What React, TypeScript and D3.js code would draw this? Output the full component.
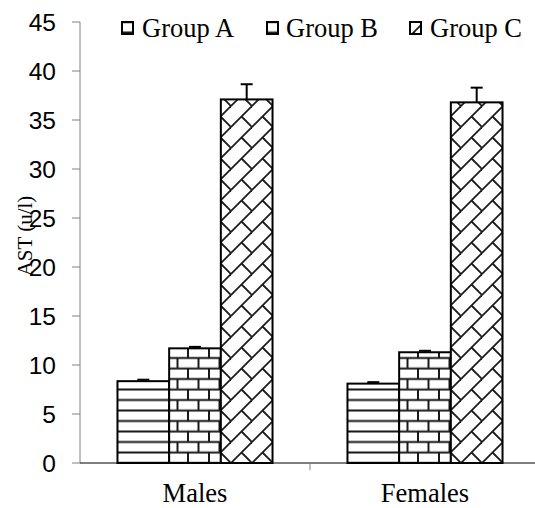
import React from "react";
import * as d3 from "d3";

const categories = ["Males", "Females"];
const groups = ["Group A", "Group B", "Group C"];
const malesValues = [8.35, 11.7, 37.1];
const femalesValues = [8.1, 11.3, 36.8];
const malesErrors = [0.15, 0.15, 1.55];
const femalesErrors = [0.15, 0.15, 1.5];
const yTicks = [0, 5, 10, 15, 20, 25, 30, 35, 40, 45];
const yLabel = "AST (u/l)";

const W = 535;
const H = 508;
const X0 = 80;
const X1 = 540;
const Y0 = 463;
const Y1 = 22;

export default function App() {
  const y = d3.scaleLinear().domain([0, 45]).range([Y0, Y1]);
  const xCat = d3.scaleBand<string>().domain(categories).range([X0, X1]).padding(0);
  const xGrp = d3
    .scaleBand<string>()
    .domain(groups)
    .range([0, xCat.bandwidth()])
    .paddingInner(0)
    .paddingOuter(0.725);

  const values = [malesValues, femalesValues];
  const errors = [malesErrors, femalesErrors];
  const patIds = ["patA", "patB", "patC"];

  const shifts: number[][] = [];
  for (const dx of [-21, 0, 21]) for (const dy of [-21, 0, 21]) shifts.push([dx, dy]);

  const lineStroke = "#1a1a1a";
  const legendX = [122, 267, 410];
  const legendTextX = [142, 286, 430];
  const serif = "'Liberation Serif', 'Times New Roman', serif";

  return (
    <svg
      width={W}
      height={H}
      style={{ position: "absolute", left: 0, top: 0, background: "#fff" }}
    >
      <defs>
        <pattern id="patA" patternUnits="userSpaceOnUse" x={0} y={Y0 - 5.25} width={20} height={10.5}>
          <rect x={0} y={0} width={20} height={10.5} fill="#fff" />
          <line x1={0} x2={20} y1={5.25} y2={5.25} stroke={lineStroke} strokeWidth={2} />
        </pattern>
        <pattern id="patB" patternUnits="userSpaceOnUse" x={3} y={Y0 - 5.25} width={21} height={21}>
          <rect x={0} y={0} width={21} height={21} fill="#fff" />
          <line x1={0} x2={21} y1={5.25} y2={5.25} stroke={lineStroke} strokeWidth={2} />
          <line x1={0} x2={21} y1={15.75} y2={15.75} stroke={lineStroke} strokeWidth={2} />
          <line x1={10.5} x2={10.5} y1={5.25} y2={15.75} stroke={lineStroke} strokeWidth={2} />
          <line x1={0} x2={0} y1={15.75} y2={21} stroke={lineStroke} strokeWidth={2} />
          <line x1={0} x2={0} y1={0} y2={5.25} stroke={lineStroke} strokeWidth={2} />
          <line x1={21} x2={21} y1={15.75} y2={21} stroke={lineStroke} strokeWidth={2} />
          <line x1={21} x2={21} y1={0} y2={5.25} stroke={lineStroke} strokeWidth={2} />
        </pattern>
        <pattern id="patC" patternUnits="userSpaceOnUse" x={4} y={Y0} width={21} height={21}>
          <rect x={0} y={0} width={21} height={21} fill="#fff" />
          {shifts.map(([dx, dy], i) => (
            <g key={i} transform={`translate(${dx},${dy})`}>
              <line x1={0} y1={21} x2={21} y2={0} stroke={lineStroke} strokeWidth={1.8} />
              <line x1={10.5} y1={10.5} x2={21} y2={21} stroke={lineStroke} strokeWidth={1.8} />
            </g>
          ))}
        </pattern>
      </defs>

      {/* y axis */}
      <line x1={X0} x2={X0} y1={Y1} y2={Y0} stroke="#808080" strokeWidth={1} />
      {yTicks.map((t) => (
        <g key={t}>
          <line x1={X0 - 8} x2={X0} y1={y(t)} y2={y(t)} stroke="#808080" strokeWidth={1} />
          <text
            x={56}
            y={y(t)}
            dy="0.36em"
            textAnchor="end"
            fontFamily="'Liberation Sans', Arial, sans-serif"
            fontSize={24.5}
            fill="#000"
          >
            {t}
          </text>
        </g>
      ))}

      {/* bars */}
      {categories.map((c, ci) => (
        <g key={c} transform={`translate(${xCat(c)},0)`}>
          {groups.map((g, gi) => {
            const v = values[ci][gi];
            const e = errors[ci][gi];
            const bx = xGrp(g) as number;
            const bw = xGrp.bandwidth();
            const cx = bx + bw / 2;
            return (
              <g key={g}>
                <line x1={cx} x2={cx} y1={y(v)} y2={y(v + e)} stroke="#000" strokeWidth={2} />
                <line x1={cx - 6} x2={cx + 6} y1={y(v + e)} y2={y(v + e)} stroke="#000" strokeWidth={2} />
                <rect
                  x={bx}
                  y={y(v)}
                  width={bw}
                  height={Y0 - y(v)}
                  fill={`url(#${patIds[gi]})`}
                  stroke="#000"
                  strokeWidth={2}
                />
              </g>
            );
          })}
        </g>
      ))}

      {/* x axis */}
      <line x1={X0} x2={X1} y1={Y0} y2={Y0} stroke="#000" strokeWidth={1} />
      {categories.map((c) => (
        <line
          key={c + "t"}
          x1={(xCat(c) as number) + xCat.bandwidth()}
          x2={(xCat(c) as number) + xCat.bandwidth()}
          y1={Y0}
          y2={Y0 + 7}
          stroke="#808080"
          strokeWidth={1}
        />
      ))}
      {categories.map((c) => (
        <text
          key={c}
          x={(xCat(c) as number) + xCat.bandwidth() / 2}
          y={502}
          textAnchor="middle"
          fontFamily={serif}
          fontSize={26.5}
          fill="#000"
        >
          {c}
        </text>
      ))}

      {/* y label */}
      <text
        transform={`translate(32,236) rotate(-90)`}
        textAnchor="middle"
        fontFamily={serif}
        fontSize={21}
        fill="#000"
      >
        {yLabel}
      </text>

      {/* legend */}
      {groups.map((g, gi) => (
        <g key={g}>
          <rect
            x={legendX[gi]}
            y={22}
            width={11}
            height={12}
            fill={`url(#${patIds[gi]})`}
            stroke="#000"
            strokeWidth={2}
          />
          <text x={legendTextX[gi]} y={37} fontFamily={serif} fontSize={26.5} fill="#000">
            {g}
          </text>
        </g>
      ))}
    </svg>
  );
}
